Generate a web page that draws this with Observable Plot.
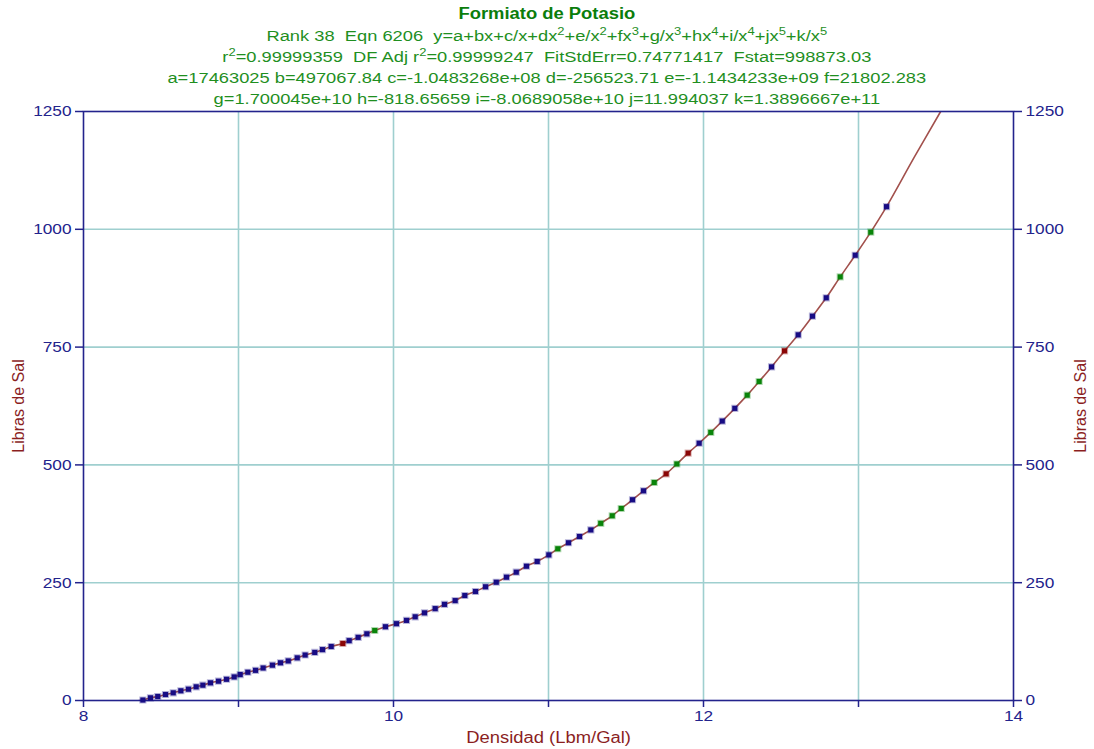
<!DOCTYPE html>
<html>
<head>
<meta charset="utf-8">
<script src="https://cdn.jsdelivr.net/npm/d3@7"></script>
<script src="https://cdn.jsdelivr.net/npm/@observablehq/plot@0.6"></script>
<style>
  body { margin: 0; background: #fff; font-family: "Liberation Sans", Arial, sans-serif; }
  #wrap { position: relative; width: 1094px; height: 749px; overflow: hidden; background: #fff; }
  #chart { position: absolute; left: 0; top: 95px; }
  .line { position: absolute; left: 0; width: 1094px; text-align: center; white-space: pre;
          line-height: 20px; height: 20px; font-size: 15.5px; color: #1f8f1f;
          transform: scaleX(1.18); transform-origin: 548px 0; z-index: 2; }
  .line.title { font-weight: bold; font-size: 16px; color: #0b7d0b; transform: scaleX(1.15); }
  .line sup { font-size: 11px; vertical-align: 6px; line-height: 0; }
  .axlabel { position: absolute; color: #8b1f1f; font-size: 16px; white-space: nowrap; z-index: 2; }
</style>
</head>
<body>
<div id="wrap">
  <div id="chart"></div>
  <div class="line title" style="top:4px">Formiato de Potasio</div>
  <div class="line" style="top:26px">Rank 38  Eqn 6206  y=a+bx+c/x+dx<sup>2</sup>+e/x<sup>2</sup>+fx<sup>3</sup>+g/x<sup>3</sup>+hx<sup>4</sup>+i/x<sup>4</sup>+jx<sup>5</sup>+k/x<sup>5</sup></div>
  <div class="line" style="top:47px">r<sup>2</sup>=0.99999359  DF Adj r<sup>2</sup>=0.99999247  FitStdErr=0.74771417  Fstat=998873.03</div>
  <div class="line" style="top:68px">a=17463025 b=497067.84 c=-1.0483268e+08 d=-256523.71 e=-1.1434233e+09 f=21802.283</div>
  <div class="line" style="top:89px">g=1.700045e+10 h=-818.65659 i=-8.0689058e+10 j=11.994037 k=1.3896667e+11</div>
  <div class="axlabel" id="ylabL">Libras de Sal</div>
  <div class="axlabel" id="ylabR">Libras de Sal</div>
  <div class="axlabel" id="xlab">Densidad (Lbm/Gal)</div>
</div>
<script>
// Density (lbm/gal) and pounds of salt for each measured point
const densidad = [8.383, 8.432, 8.479, 8.529, 8.579, 8.628, 8.677, 8.727, 8.770, 8.819,
  8.871, 8.923, 8.972, 9.011, 9.060, 9.110, 9.159, 9.219, 9.271, 9.321,
  9.379, 9.430, 9.492, 9.542, 9.598, 9.673, 9.714, 9.772, 9.828, 9.879,
  9.948, 10.019, 10.084, 10.140, 10.200, 10.269, 10.329, 10.398, 10.460, 10.529,
  10.594, 10.663, 10.729, 10.792, 10.858, 10.927, 11.002, 11.060, 11.129, 11.200,
  11.273, 11.337, 11.411, 11.469, 11.542, 11.613, 11.682, 11.759, 11.828, 11.901,
  11.972, 12.047, 12.121, 12.202, 12.282, 12.359, 12.439, 12.523, 12.611, 12.703,
  12.792, 12.882, 12.979, 13.079, 13.181];
const libras = [1, 5.7, 8.5, 12.7, 16.3, 20.6, 24, 29, 32.5, 37.5,
  41, 45, 50, 55, 60, 64, 69, 75, 80, 84,
  90.5, 96.5, 102, 108, 114.6, 121, 127, 134, 141.5, 148.5,
  156.5, 163, 170, 177.6, 186, 195, 204, 212, 222.8, 231.3,
  241.3, 251, 261.7, 272.3, 285, 295, 309, 322, 334.7, 348,
  362, 376, 392, 407.5, 426, 445, 462.6, 481, 502, 525,
  546, 569, 593, 620, 648, 677, 708, 742, 776, 815.6,
  854.6, 899, 945, 994, 1048];
// residual class of each point: b = within band, g = above, r = below
const clase = ["b","b","b","b","b","b","b","b","b","b",
  "b","b","b","b","b","b","b","b","b","b",
  "b","b","b","b","b","r","b","b","b","g",
  "b","b","b","b","b","b","b","b","b","b",
  "b","b","b","b","b","b","b","g","b","b",
  "b","g","g","g","b","b","g","r","g","r",
  "b","g","b","b","g","g","b","r","b","b",
  "b","g","b","g","b"];

// fitted curve continues past the first and last points
const ajusteInicioX = [8.31], ajusteInicioY = [-2];
const ajusteFinX = [13.36, 13.53], ajusteFinY = [1153, 1250];

const xTicks = [8, 9, 10, 11, 12, 13, 14];
const xEtiquetas = [8, 10, 12, 14];
const yTicks = [0, 250, 500, 750, 1000, 1250];
const xGrid = [9, 10, 11, 12, 13];
const yGrid = [250, 500, 750, 1000];

const colores = { b: "#180c84", g: "#0a840a", r: "#8a0606" };
const azul = "#23238c";
const estirar = 1.15;

const puntos = densidad.map((x, i) => ({ x, y: libras[i], c: clase[i] }));
const ajuste = [
  ...ajusteInicioX.map((x, i) => ({ x, y: ajusteInicioY[i] })),
  ...puntos,
  ...ajusteFinX.map((x, i) => ({ x, y: ajusteFinY[i] }))
];

const chart = Plot.plot({
  width: 1094,
  height: 654,
  marginTop: 16,
  marginBottom: 49,
  marginLeft: 83,
  marginRight: 81,
  style: { fontFamily: "'Liberation Sans', Arial, sans-serif", fontSize: "15px", background: "transparent" },
  x: { domain: [8, 14] },
  y: { domain: [0, 1250] },
  marks: [
    Plot.gridX(xGrid, { stroke: "#9fcfcf", strokeOpacity: 1, strokeWidth: 1.6 }),
    Plot.gridY(yGrid, { stroke: "#9fcfcf", strokeOpacity: 1, strokeWidth: 1.6 }),
    Plot.axisX({ ticks: xTicks, tickSize: 7, tickPadding: 3, stroke: azul, fill: azul, strokeWidth: 1.5,
      tickFormat: d => xEtiquetas.includes(d) ? String(d) : "", label: null }),
    Plot.axisY({ anchor: "left", ticks: yTicks, tickSize: 8, tickPadding: 4, stroke: azul, fill: azul,
      strokeWidth: 1.5, tickFormat: d => String(d), label: null }),
    Plot.axisY({ anchor: "right", ticks: yTicks, tickSize: 8, tickPadding: 4, stroke: azul, fill: azul,
      strokeWidth: 1.5, tickFormat: d => String(d), label: null }),
    Plot.line(ajuste, { x: "x", y: "y", stroke: "#a2504c", strokeWidth: 1.6, curve: "catmull-rom", clip: true }),
    Plot.frame({ stroke: azul, strokeWidth: 1.6 }),
    Plot.dot(puntos, { x: "x", y: "y", symbol: "square", r: 2.9,
      fill: d => colores[d.c], stroke: d => colores[d.c], strokeOpacity: 0.3, strokeWidth: 2 })
  ]
});

// widen horizontal tick labels around their anchor points
d3.select(chart).selectAll("text").each(function () {
  const t = d3.select(this);
  const x = +t.attr("x") || 0;
  const tr = t.attr("transform") || "";
  t.attr("transform", `${tr} translate(${x},0) scale(${estirar},1) translate(${-x},0)`);
});

document.getElementById("chart").appendChild(chart);

// axis titles placed beside the frame
const frameTop = 111, frameBottom = 700, frameLeft = 83, frameRight = 1013;
const midY = (frameTop + frameBottom) / 2;
function ubicarVertical(el, cx) {
  const w = el.offsetWidth, h = el.offsetHeight;
  el.style.left = (cx - w / 2) + "px";
  el.style.top = (midY - h / 2) + "px";
  el.style.transform = "rotate(-90deg)";
}
ubicarVertical(document.getElementById("ylabL"), 18);
ubicarVertical(document.getElementById("ylabR"), 1080);
const xl = document.getElementById("xlab");
xl.style.left = ((frameLeft + frameRight) / 2 - xl.offsetWidth / 2) + "px";
xl.style.top = (738 - xl.offsetHeight / 2) + "px";
xl.style.transform = `scaleX(${estirar})`;
</script>
</body>
</html>
